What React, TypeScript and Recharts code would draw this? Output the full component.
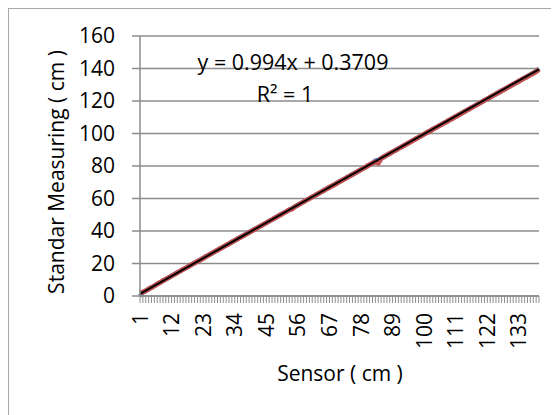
import { LineChart, Line, XAxis, YAxis, CartesianGrid, ReferenceLine } from "recharts"

// Sensor reading index (category axis)
const sensorCm = [
  1, 2, 3, 4, 5, 6, 7, 8, 9, 10, 11, 12, 13, 14, 15, 16, 17, 18, 19, 20,
  21, 22, 23, 24, 25, 26, 27, 28, 29, 30, 31, 32, 33, 34, 35, 36, 37, 38, 39, 40,
  41, 42, 43, 44, 45, 46, 47, 48, 49, 50, 51, 52, 53, 54, 55, 56, 57, 58, 59, 60,
  61, 62, 63, 64, 65, 66, 67, 68, 69, 70, 71, 72, 73, 74, 75, 76, 77, 78, 79, 80,
  81, 82, 83, 84, 85, 86, 87, 88, 89, 90, 91, 92, 93, 94, 95, 96, 97, 98, 99, 100,
  101, 102, 103, 104, 105, 106, 107, 108, 109, 110, 111, 112, 113, 114, 115, 116, 117, 118, 119, 120,
  121, 122, 123, 124, 125, 126, 127, 128, 129, 130, 131, 132, 133, 134, 135, 136, 137, 138, 139, 140,
]

// blue series (mostly hidden under the red one)
const seriesBlue = [
  0, 2.2, 3.1, 4.2, 5.2, 6.2, 7.3, 8.3, 9.3, 10.3,
  11.3, 12.3, 13.3, 14.3, 15.3, 16.3, 17.3, 18.3, 19.3, 20.3,
  21.3, 22.3, 23.3, 24.3, 25.3, 26.3, 27.3, 28.3, 29.3, 30.3,
  31.2, 32.2, 33.2, 34.2, 35.2, 36.2, 37.2, 38.2, 39.2, 40.2,
  41.1, 42.1, 43.1, 44.1, 45.1, 46.1, 47.1, 48.1, 49.1, 50.1,
  51.0, 52.0, 53.0, 54.0, 55.0, 56.0, 57.0, 58.0, 59.0, 60.0,
  61.0, 62.0, 62.9, 63.9, 64.9, 65.9, 66.9, 67.9, 68.9, 69.9,
  70.9, 71.9, 72.9, 73.9, 74.9, 75.8, 76.8, 77.8, 78.8, 79.8,
  80.8, 81.8, 83.3, 83.7, 84.7, 85.7, 86.7, 87.7, 88.7, 89.7,
  90.7, 91.7, 92.7, 93.7, 94.7, 95.7, 96.7, 97.6, 98.6, 99.6,
  100.6, 101.6, 102.6, 103.6, 104.6, 105.6, 106.6, 107.5, 108.5, 109.5,
  110.5, 111.5, 112.5, 113.5, 114.5, 115.5, 116.5, 117.5, 118.4, 119.4,
  120.4, 121.4, 122.4, 123.4, 124.4, 125.4, 126.4, 127.3, 128.3, 129.3,
  130.3, 131.3, 132.3, 133.3, 134.3, 135.3, 136.3, 137.3, 138.3, 140.0,
]

// Standar measuring (cm)
const standarCm = [
  2, 2.4, 3.2, 4.3, 5.2, 6.3, 7.4, 8.3, 9.4, 10.4,
  11.3, 12.4, 13.3, 14.4, 15.3, 16.4, 17.3, 18.3, 19.3, 20.3,
  21.3, 22.2, 23.2, 24.3, 25.2, 26.2, 27.3, 28.2, 29.2, 30.2,
  31.2, 32.1, 33.2, 34.1, 35.2, 36.1, 37.1, 38.1, 39.1, 40.1,
  41.1, 42.1, 43.0, 44.1, 45.0, 46.1, 47.0, 48.0, 49.0, 50.0,
  51.0, 51.9, 53.0, 53.6, 55.0, 55.9, 57.0, 57.9, 59.0, 59.9,
  61.0, 61.9, 62.9, 63.9, 64.9, 65.9, 66.9, 67.9, 68.8, 69.9,
  70.8, 71.8, 72.8, 73.8, 74.8, 75.8, 76.8, 77.8, 78.8, 79.7,
  80.8, 81.7, 82.5, 81.9, 84.7, 85.7, 86.7, 87.7, 88.7, 89.6,
  90.7, 91.6, 92.6, 93.6, 94.6, 95.6, 96.6, 97.6, 98.6, 99.6,
  100.6, 101.5, 102.6, 103.5, 104.5, 105.5, 106.5, 107.4, 108.5, 109.4,
  110.5, 111.4, 112.4, 113.4, 114.4, 115.4, 116.4, 117.3, 118.4, 119.3,
  120.4, 121.3, 122.3, 123.3, 124.3, 125.2, 126.3, 127.2, 128.2, 129.2,
  130.2, 131.2, 132.1, 133.2, 134.1, 135.1, 136.1, 137.1, 138.1, 139.5,
]

const yTicks = [0, 20, 40, 60, 80, 100, 120, 140, 160]

// linear trendline as printed on the chart
const slope = 0.994
const intercept = 0.3709

const data = sensorCm.map((s, i) => ({
  sensor: String(s),
  blue: seriesBlue[i],
  standar: standarCm[i],
}))

const font = "'Open Sans', sans-serif"
const gray = "#8c8c8c"

function SensorTick(props: any) {
  const { x, y, index, payload } = props
  if (index % 11 !== 0) return null
  return (
    <text
      transform={`translate(${x},${y}) rotate(-90)`}
      textAnchor="end"
      dy="0.36em"
      fontSize={21}
      fontFamily={font}
      fill="#000"
    >
      {payload.value}
    </text>
  )
}

export default function App() {
  const first = sensorCm[0]
  const last = sensorCm[sensorCm.length - 1]

  return (
    <div
      style={{
        position: "relative",
        width: 551,
        height: 407,
        borderLeft: "1px solid #a8a8a8",
        borderTop: "1px solid #a8a8a8",
        boxSizing: "border-box",
        overflow: "hidden",
        background: "#fff",
      }}
    >
      <div style={{ position: "absolute", left: -1, top: -1 }}>
        <LineChart width={551} height={407} data={data} margin={{ top: 28, right: 20, bottom: 9, left: 0 }}>
          <CartesianGrid vertical={false} stroke={gray} strokeWidth={1.5} />
          <XAxis
            dataKey="sensor"
            interval={0}
            height={110}
            tickSize={7}
            tickMargin={10}
            tick={<SensorTick />}
            axisLine={{ stroke: gray, strokeWidth: 1.5 }}
            tickLine={{ stroke: gray }}
          />
          <YAxis
            type="number"
            domain={[0, 160]}
            ticks={yTicks}
            width={132}
            tickSize={8}
            tickMargin={17}
            axisLine={{ stroke: gray, strokeWidth: 1.5 }}
            tickLine={{ stroke: gray, strokeWidth: 1.5 }}
            tick={{ fontSize: 21, fontFamily: font, fill: "#000" }}
          />
          <Line type="linear" dataKey="blue" stroke="#4f81bd" strokeWidth={4.5} dot={false} isAnimationActive={false} />
          <Line type="linear" dataKey="standar" stroke="#c0504d" strokeWidth={5} dot={false} isAnimationActive={false} />
          <ReferenceLine
            segment={[
              { x: String(first), y: slope * first + intercept },
              { x: String(last), y: slope * last + intercept },
            ]}
            stroke="#000"
            strokeWidth={2}
          />
        </LineChart>
      </div>
      <svg
        width={551}
        height={407}
        style={{ position: "absolute", left: -1, top: -1, pointerEvents: "none" }}
        fontFamily={font}
      >
        <text x={285} y={62} textAnchor="middle" fontSize={21.5} fill="#000">
          y = 0.994x + 0.3709
        </text>
        <text x={277} y={94} textAnchor="middle" fontSize={21.5} fill="#000">
          R² = 1
        </text>
        <text transform="translate(49,164) rotate(-90)" textAnchor="middle" dy="0.35em" fontSize={21} fill="#000">
          Standar Measuring ( cm )
        </text>
        <text x={332} y={373} textAnchor="middle" fontSize={21} fill="#000">
          Sensor ( cm )
        </text>
      </svg>
    </div>
  )
}
